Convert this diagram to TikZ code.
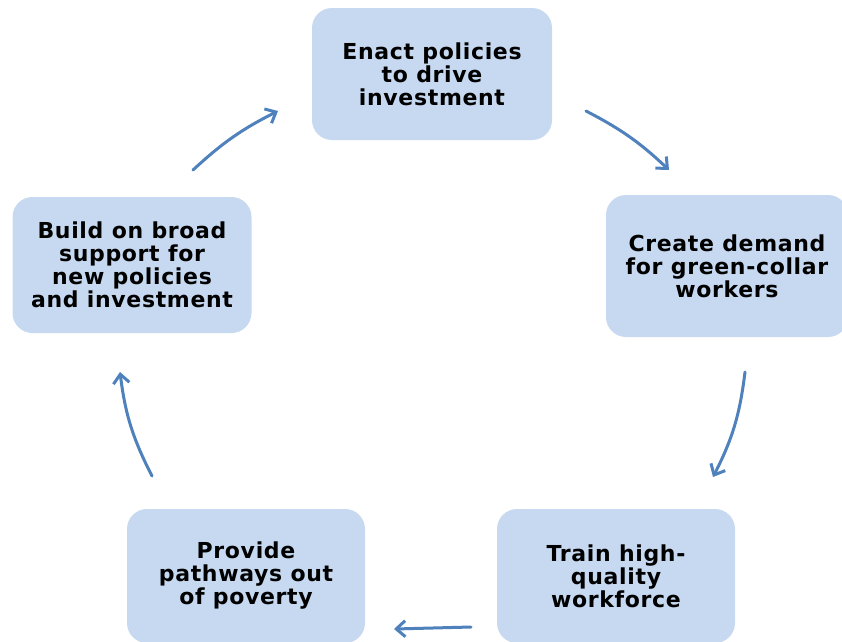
\documentclass[tikz,border=0pt]{standalone}
\usepackage{fontspec}
\setmainfont{DejaVu Sans}[LetterSpace=3]
\usetikzlibrary{arrows.meta, positioning}
\definecolor{boxblue}{RGB}{198,217,240}
\definecolor{arrowblue}{RGB}{79,129,189}
\tikzstyle{stage} = [rectangle, rounded corners=20pt, minimum width=238pt, minimum height=134pt, fill=boxblue, align=center, font=\bfseries\fontsize{22}{23}\selectfont]
\tikzstyle{flow} = [draw=arrowblue, line width=3pt, line cap=round, -{Straight Barb[length=9pt, width=16pt]}]

\begin{document}
\begin{tikzpicture}[x=1pt, y=-1pt]
\useasboundingbox (0,0) rectangle (842,641);
\clip (0,0) rectangle (842,641);
\node (enact) [stage, minimum width=240pt, minimum height=132pt] at (432,74) {Enact policies\\to drive\\investment};
\node (demand) [stage, minimum width=242pt, minimum height=142pt] at (727,266) {Create demand\\for green-collar\\workers};
\node (train) [stage] at (616,576) {Train high-\\quality\\workforce};
\node (poverty) [stage] at (246,576) {Provide\\pathways out\\of poverty};
\node (support) [stage, minimum width=239pt, minimum height=136pt] at (132,265) {Build on broad\\support for\\new policies\\and investment};
% arrow ends
\coordinate (a1s) at (586,111);
\coordinate (a1e) at (669,170);
\coordinate (a2s) at (745,372);
\coordinate (a2e) at (713,477);
\coordinate (a3s) at (471,627);
\coordinate (a3e) at (394,629);
\coordinate (a4s) at (152,476);
\coordinate (a4e) at (120,372);
\coordinate (a5s) at (193,170);
\coordinate (a5e) at (278,111);
\draw [flow] (a1s) to[bend left=8] (a1e);
\draw [flow] (a2s) to[bend left=10] (a2e);
\draw [flow] (a3s) -- (a3e);
\draw [flow] (a4s) to[bend left=10] (a4e);
\draw [flow] (a5s) to[bend left=8] (a5e);
\end{tikzpicture}
\end{document}
